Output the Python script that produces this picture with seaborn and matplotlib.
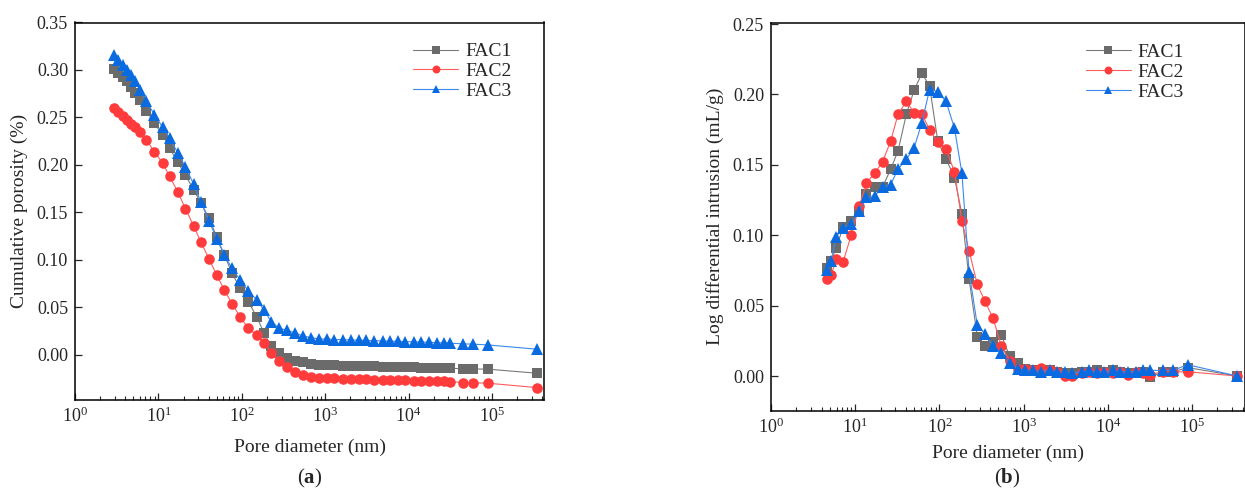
import matplotlib
matplotlib.use('Agg')
import matplotlib.pyplot as plt
from matplotlib.ticker import FixedLocator, FormatStrFormatter, LogLocator
import seaborn as sns

# Pore diameter steps (nm), shared by both panels; (b) starts at the 5th step
pore_d = [2.93, 3.30, 3.72, 4.16, 4.63, 5.19, 5.96, 7.19, 8.95, 11.2,
          13.6, 17.0, 21.1, 26.4, 32.3, 40.5, 50.1, 61.9, 76.4, 95.5,
          120, 151, 185, 225, 282, 348, 434, 545, 682, 853,
          1050, 1290, 1620, 2040, 2510, 3090, 3800, 4900, 6030, 7410,
          9120, 11500, 14100, 17400, 21900, 26300, 31600, 45400, 59200, 88900,
          344000]
pore_d_b = pore_d[4:]

# (a) cumulative porosity
cum_fac1 = [0.301, 0.297, 0.293, 0.288, 0.282, 0.276, 0.268, 0.257, 0.244, 0.232,
            0.218, 0.203, 0.189, 0.174, 0.160, 0.144, 0.124, 0.105, 0.086, 0.070,
            0.056, 0.040, 0.023, 0.009, 0.002, -0.0035, -0.006, -0.008, -0.0095, -0.0105,
            -0.0108, -0.0111, -0.0113, -0.0115, -0.0117, -0.0119, -0.0121, -0.0123, -0.0125, -0.0127,
            -0.0129, -0.0131, -0.0133, -0.0135, -0.0137, -0.0139, -0.0140, -0.0147, -0.0148, -0.0150,
            -0.0193]
cum_fac2 = [0.260, 0.256, 0.252, 0.247, 0.243, 0.240, 0.235, 0.226, 0.214, 0.202,
            0.188, 0.172, 0.154, 0.136, 0.119, 0.101, 0.084, 0.068, 0.054, 0.040,
            0.028, 0.021, 0.013, 0.0024, -0.006, -0.0123, -0.0176, -0.021, -0.0228, -0.0242,
            -0.0245, -0.0248, -0.0251, -0.0254, -0.0257, -0.0259, -0.0261, -0.0263, -0.0265, -0.0267,
            -0.0269, -0.0271, -0.0273, -0.0275, -0.0277, -0.0279, -0.0281, -0.0292, -0.0293, -0.0298,
            -0.0344]
cum_fac3 = [0.316, 0.310, 0.305, 0.300, 0.295, 0.288, 0.279, 0.267, 0.253, 0.240,
            0.228, 0.213, 0.198, 0.180, 0.161, 0.141, 0.122, 0.105, 0.091, 0.079,
            0.067, 0.058, 0.047, 0.035, 0.028, 0.026, 0.023, 0.020, 0.018, 0.0168,
            0.0165, 0.0162, 0.0160, 0.0157, 0.0155, 0.0152, 0.0150, 0.0147, 0.0145, 0.0142,
            0.0140, 0.0137, 0.0135, 0.0132, 0.0129, 0.0126, 0.0123, 0.0116, 0.0113, 0.0105,
            0.0060]

# (b) log differential intrusion
ldi_fac1 = [0.077, 0.082, 0.091, 0.106, 0.110, 0.117, 0.129, 0.134, 0.134, 0.147,
            0.160, 0.186, 0.203, 0.215, 0.206, 0.167, 0.154, 0.141, 0.115, 0.069,
            0.028, 0.021, 0.024, 0.029, 0.014, 0.009,
            0.005, 0.004, 0.003, 0.004, 0.003, 0.002, 0.002, 0.003, 0.003, 0.004,
            0.003, 0.004, 0.003, 0.002, 0.002, 0.003, -0.001,
            0.003, 0.003, 0.006, 0.000]
ldi_fac2 = [0.069, 0.072, 0.083, 0.081, 0.100, 0.121, 0.137, 0.144, 0.152, 0.167,
            0.186, 0.195, 0.187, 0.186, 0.175, 0.166, 0.161, 0.145, 0.110, 0.089,
            0.065, 0.053, 0.041, 0.021, 0.011, 0.005,
            0.005, 0.004, 0.006, 0.004, 0.003, 0.000, 0.000, 0.002, 0.003, 0.002,
            0.003, 0.002, 0.003, 0.001, 0.003, 0.002, 0.001,
            0.003, 0.003, 0.003, 0.000]
ldi_fac3 = [0.0755, 0.082, 0.099, 0.105, 0.108, 0.117, 0.127, 0.128, 0.134, 0.136,
            0.147, 0.154, 0.162, 0.180, 0.2035, 0.202, 0.195, 0.176, 0.144, 0.074,
            0.036, 0.030, 0.021, 0.0165, 0.009, 0.005,
            0.004, 0.004, 0.003, 0.004, 0.003, 0.003, 0.002, 0.003, 0.004, 0.003,
            0.003, 0.004, 0.003, 0.003, 0.003, 0.004, 0.004,
            0.004, 0.004, 0.008, 0.000]

labels = ['FAC1', 'FAC2', 'FAC3']
marker_cols = ['#6b6b6b', '#ff3b3b', '#0a6be0']
line_cols = ['#7a7a7a', '#ff5c5c', '#3a8aee']
markers = ['s', 'o', '^']
msizes = [6.8, 7.6, 8.2]

sns.set_style('ticks')
plt.rcParams['font.family'] = ['Liberation Serif', 'DejaVu Serif']
plt.rcParams['mathtext.fontset'] = 'custom'
plt.rcParams['mathtext.rm'] = 'Liberation Serif'
plt.rcParams['mathtext.bf'] = 'Liberation Serif:bold'

fig = plt.figure(figsize=(12.45, 4.95), dpi=100)
ax_a = fig.add_axes([75 / 1245, 1 - 400 / 495, 469 / 1245, 377.5 / 495])
ax_b = fig.add_axes([771 / 1245, 1 - 410.5 / 495, 473.5 / 1245, 388 / 495])


def draw_panel(ax, x, series, leg_x, xpad):
    for y, lab, mc, lc, mk, ms in zip(series, labels, marker_cols, line_cols, markers, msizes):
        sns.lineplot(x=x, y=y, ax=ax, label=lab, color=lc, linewidth=0.8,
                     marker=mk, markersize=ms, markerfacecolor=mc,
                     markeredgecolor=mc, markeredgewidth=0, errorbar=None)
    ax.set_xscale('log')
    ax.set_xlim(1, 4.2e5)
    ax.xaxis.set_major_locator(LogLocator(base=10, numticks=10))
    ax.xaxis.set_minor_locator(LogLocator(base=10, subs=range(2, 10), numticks=20))
    ax.tick_params(axis='both', which='major', direction='in', length=5, width=0.9,
                   labelsize=13, pad=5, top=False, right=False)
    ax.tick_params(axis='x', which='minor', direction='in', length=3, width=0.8, top=False)
    ax.yaxis.set_major_formatter(FormatStrFormatter('%.2f'))
    for sp in ax.spines.values():
        sp.set_linewidth(1.1)
        sp.set_color('black')
    ax.set_xlabel('Pore diameter (nm)', fontsize=14, labelpad=xpad)
    ax.legend(loc='upper right', bbox_to_anchor=(leg_x, 0.967), frameon=False,
              fontsize=14, handlelength=2.3, handletextpad=0.35,
              labelspacing=0.12, markerscale=0.75, borderaxespad=0)


draw_panel(ax_a, pore_d, [cum_fac1, cum_fac2, cum_fac3], 0.947, 9)
ax_a.set_ylim(-0.0475, 0.35)
ax_a.yaxis.set_major_locator(FixedLocator([0.0, 0.05, 0.10, 0.15, 0.20, 0.25, 0.30, 0.35]))
ax_a.set_ylabel('Cumulative porosity (%)', fontsize=14, labelpad=6)

draw_panel(ax_b, pore_d_b, [ldi_fac1, ldi_fac2, ldi_fac3], 0.888, 6)
ax_b.set_ylim(-0.0245, 0.2511)
ax_b.yaxis.set_major_locator(FixedLocator([0.0, 0.05, 0.10, 0.15, 0.20, 0.25]))
ax_b.set_ylabel('Log differential intrusion (mL/g)', fontsize=14, labelpad=6)

fig.text(309.5 / 1245, 1 - 478 / 495, r'($\mathbf{a}$)', ha='center', va='center', fontsize=15)
fig.text(1007.5 / 1245, 1 - 478 / 495, r'($\mathbf{b}$)', ha='center', va='center', fontsize=15)

fig.savefig('out.png', dpi=100)
